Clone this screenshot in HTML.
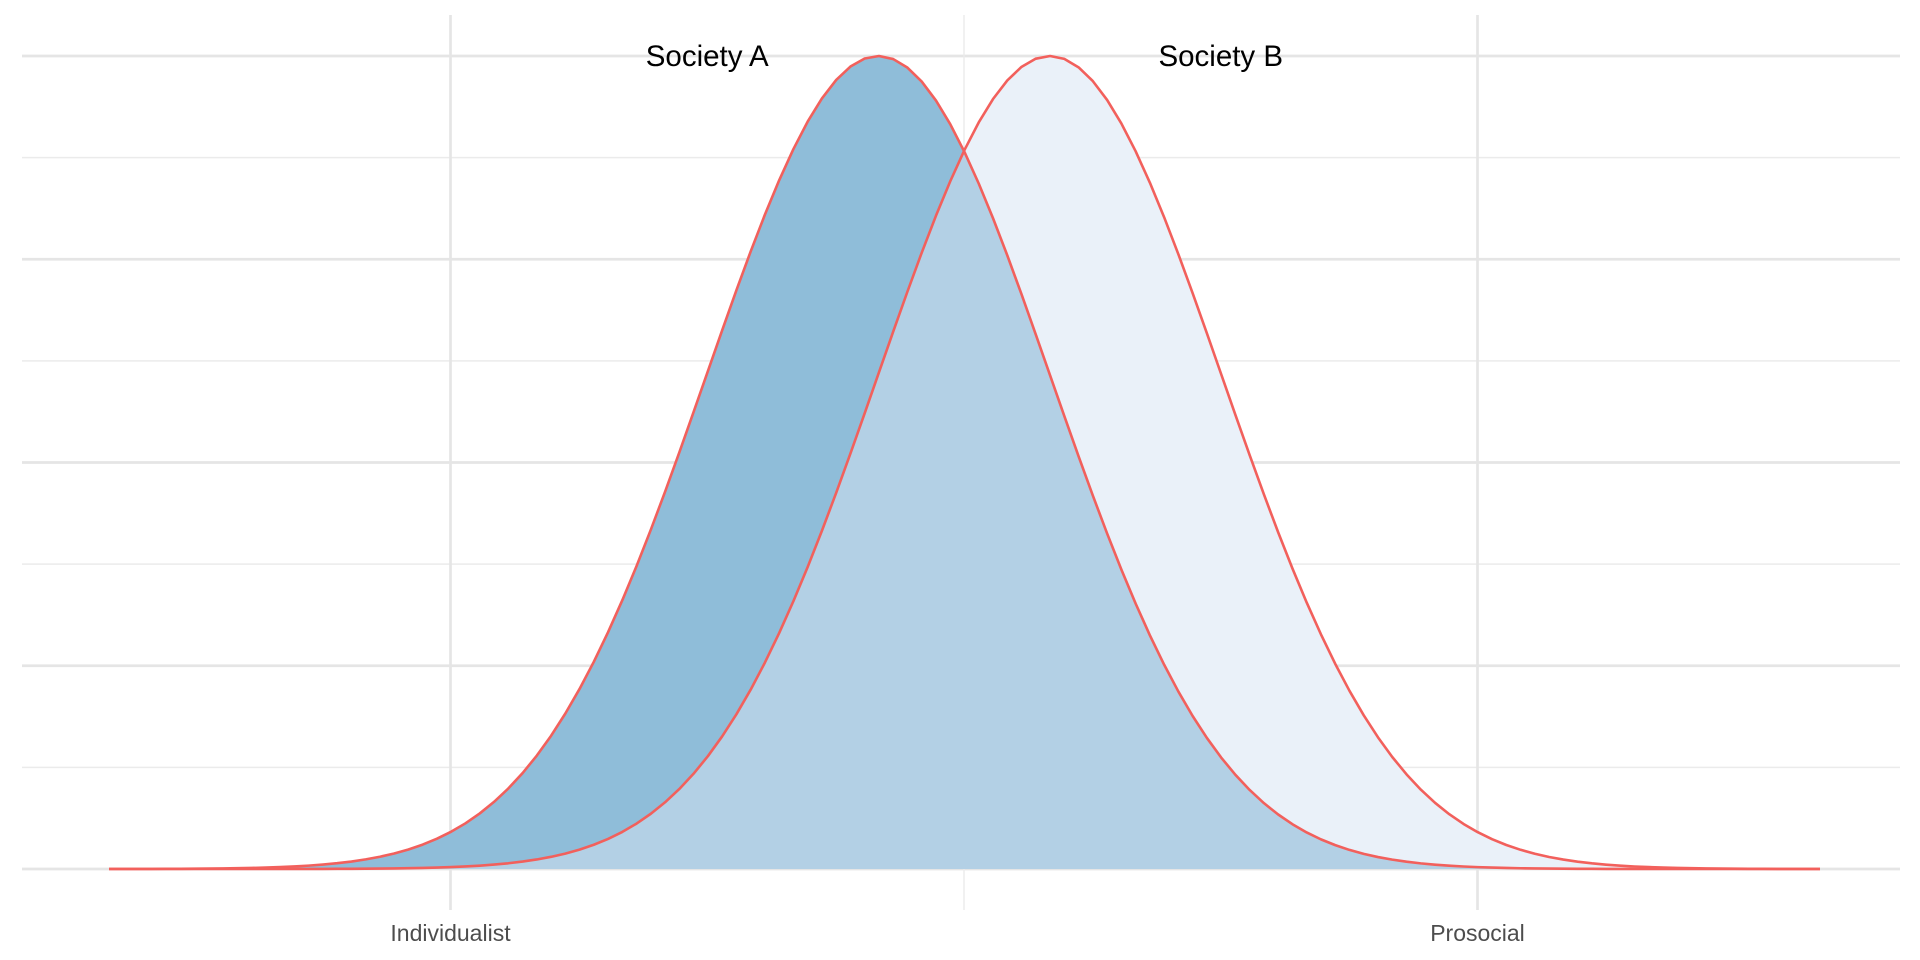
<!DOCTYPE html>
<html><head><meta charset="utf-8"><style>
html,body{margin:0;padding:0;background:#fff;}
svg{display:block;}
text{font-family:"Liberation Sans",Arial,sans-serif;}
</style></head><body>
<svg id="chart" width="1920" height="960" viewBox="0 0 1920 960" xmlns="http://www.w3.org/2000/svg">
<g id="grid"></g>
<g id="areas"></g>
<g id="lines"></g>
<g id="labels"></g>
</svg>
<script>
const seriesNames = ["Society A", "Society B"];
const seriesMeans = [-0.167, 0.167];
const seriesSds = [0.335, 0.335];
const xTickValues = [-1, 1];
const xTickLabels = ["Individualist", "Prosocial"];
const xMinorValues = [0];
const yMajorValues = [0, 0.25, 0.5, 0.75, 1.0];
const yMinorValues = [0.125, 0.375, 0.625, 0.875];
const xDomain = [-1.665, 1.667];

const NS = "http://www.w3.org/2000/svg";
const xs = v => 964 + v * 513.5;
const ys = v => 869 - v * 813;
function mk(tag, attrs, parent){
  const e = document.createElementNS(NS, tag);
  for (const k in attrs) e.setAttribute(k, attrs[k]);
  parent.appendChild(e);
  return e;
}
const grid = document.getElementById('grid');
yMinorValues.forEach(v => {
  const l = mk('line', {x1:22, x2:1900, y1:ys(v), y2:ys(v), stroke:'#ebebeb', 'stroke-width':1.4}, grid);
  
  
});
yMajorValues.forEach(v => {
  const l = mk('line', {x1:22, x2:1900, y1:ys(v), y2:ys(v), stroke:'#e5e5e5', 'stroke-width':2.7}, grid);
  
  
});
xMinorValues.forEach(v => {
  const l = mk('line', {x1:xs(v), x2:xs(v), y1:15, y2:910, stroke:'#ebebeb', 'stroke-width':1.4}, grid);
  
  
});
xTickValues.forEach(v => {
  const l = mk('line', {x1:xs(v), x2:xs(v), y1:15, y2:910, stroke:'#e5e5e5', 'stroke-width':2.7}, grid);
  
  
});

const N = 120;
const xsData = [];
for (let i = 0; i <= N; i++) xsData.push(xDomain[0] + (xDomain[1]-xDomain[0]) * i / N);
const dens = seriesMeans.map((m, k) => xsData.map(x => Math.exp(-((x-m)**2)/(2*seriesSds[k]**2))));
const maxD = Math.max(...dens.flat());
const norm = dens.map(d => d.map(v => v / maxD));

function areaPath(vals){
  let d = 'M' + xs(xsData[0]) + ',' + ys(0);
  vals.forEach((v,i) => { d += ' L' + xs(xsData[i]).toFixed(2) + ',' + ys(v).toFixed(2); });
  d += ' L' + xs(xsData[N]) + ',' + ys(0) + ' Z';
  return d;
}
function linePath(vals){
  return vals.map((v,i) => (i?'L':'M') + xs(xsData[i]).toFixed(2) + ',' + ys(v).toFixed(2)).join(' ');
}
const areas = document.getElementById('areas');
const aB = mk('path', {d: areaPath(norm[1]), fill:'#eaf1f9'}, areas);


const aA = mk('path', {d: areaPath(norm[0]), fill:'#8fbdd9'}, areas);


const overlap = norm[0].map((v,i) => Math.min(v, norm[1][i]));
const aO = mk('path', {d: areaPath(overlap), fill:'#b3d0e5'}, areas);



const lines = document.getElementById('lines');
norm.forEach((vals, k) => {
  const p = mk('path', {d: linePath(vals), fill:'none', stroke:'#f2605c', 'stroke-width':2.6, 'stroke-linejoin':'round'}, lines);
  
  
});

const labels = document.getElementById('labels');
seriesNames.forEach((n, k) => {
  const xPos = k === 0 ? xs(seriesMeans[k]) - 171 : xs(seriesMeans[k]) + 171;
  const t = mk('text', {x:xPos, y:66, 'text-anchor':'middle', 'font-size':29.5, fill:'#000'}, labels);
  t.textContent = n;
  
  
});
xTickValues.forEach((v, i) => {
  const t = mk('text', {x:xs(v), y:941, 'text-anchor':'middle', 'font-size':23, fill:'#4d4d4d'}, labels);
  t.textContent = xTickLabels[i];
  
  
});
</script>
</body></html>
